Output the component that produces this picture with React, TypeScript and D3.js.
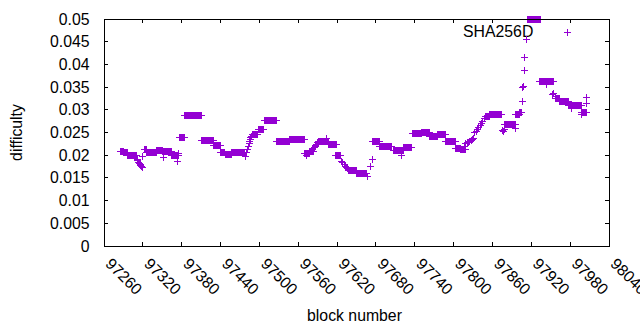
import React from "react";
import * as d3 from "d3";

// Runs of consecutive blocks sharing one difficulty value
const runStart = [97285, 97290, 97296, 97322, 97326, 97341, 97351, 97365, 97376, 97385, 97411, 97429, 97440, 97447, 97457, 97489, 97498, 97508, 97527, 97547, 97570, 97577, 97591, 97607, 97618, 97637, 97650, 97675, 97686, 97707, 97722, 97736, 97750, 97763, 97775, 97788, 97803, 97811, 97849, 97856, 97879, 97896, 97902, 97914, 97933, 97958, 97963, 97977, 97998];
const runEnd = [97290, 97296, 97310, 97326, 97341, 97351, 97365, 97375, 97384, 97411, 97429, 97440, 97446, 97457, 97477, 97497, 97506, 97527, 97547, 97570, 97577, 97584, 97606, 97619, 97626, 97650, 97666, 97686, 97704, 97722, 97735, 97750, 97763, 97775, 97788, 97803, 97811, 97819, 97856, 97874, 97895, 97901, 97905, 97934, 97954, 97963, 97977, 97998, 98005];
const runDiff = [0.0209, 0.0205, 0.0199, 0.0212, 0.0206, 0.021, 0.0208, 0.02, 0.0239, 0.0288, 0.0233, 0.0222, 0.0207, 0.0202, 0.0206, 0.0245, 0.0256, 0.0277, 0.0231, 0.0235, 0.0203, 0.0208, 0.023, 0.0223, 0.02, 0.0167, 0.016, 0.0231, 0.022, 0.0211, 0.0216, 0.0248, 0.025, 0.0242, 0.0246, 0.023, 0.0215, 0.0212, 0.0286, 0.029, 0.0268, 0.029, 0.0294, 0.0499, 0.0363, 0.0324, 0.0318, 0.031, 0.0295];

// Individual blocks
const singleBlock = [97311, 97312, 97313, 97314, 97315, 97316, 97317, 97318, 97319, 97320, 97319, 97352, 97374, 97375, 97478, 97480, 97482, 97483, 97484, 97485, 97486, 97487, 97488, 97573, 97585, 97586, 97587, 97588, 97589, 97590, 97603, 97627, 97629, 97631, 97633, 97635, 97636, 97667, 97671, 97674, 97720, 97817, 97819, 97821, 97823, 97825, 97827, 97829, 97831, 97833, 97835, 97837, 97839, 97841, 97843, 97845, 97847, 97875, 97877, 97878, 97895, 97906, 97907, 97908, 97909, 97910, 97912, 97943, 97953, 97955, 97957, 97982, 97997, 98005, 98005];
const singleDiff = [0.019, 0.0188, 0.0185, 0.0183, 0.0181, 0.0179, 0.0177, 0.0175, 0.0173, 0.0172, 0.0198, 0.0195, 0.0187, 0.0203, 0.0198, 0.0205, 0.0213, 0.0219, 0.0226, 0.0231, 0.0235, 0.0238, 0.0241, 0.02, 0.0217, 0.0219, 0.0222, 0.0224, 0.0227, 0.0229, 0.0237, 0.0186, 0.0183, 0.0179, 0.0176, 0.0172, 0.017, 0.0153, 0.0175, 0.0191, 0.02, 0.0219, 0.0225, 0.0227, 0.0229, 0.0231, 0.0233, 0.0235, 0.0237, 0.0249, 0.0253, 0.0257, 0.0261, 0.0266, 0.027, 0.0275, 0.028, 0.0255, 0.0253, 0.0256, 0.0258, 0.0318, 0.0349, 0.0352, 0.0386, 0.0416, 0.0454, 0.0355, 0.0334, 0.0336, 0.0329, 0.0303, 0.0289, 0.0327, 0.0314];

const xTicks = [97260, 97320, 97380, 97440, 97500, 97560, 97620, 97680, 97740, 97800, 97860, 97920, 97980, 98040];
const yTicks = [0, 0.005, 0.01, 0.015, 0.02, 0.025, 0.03, 0.035, 0.04, 0.045, 0.05];
const yTickLabels = ["0", "0.005", "0.01", "0.015", "0.02", "0.025", "0.03", "0.035", "0.04", "0.045", "0.05"];
const seriesName = "SHA256D";
const xLabel = "block number";
const yLabel = "difficulty";

export default function App() {
  const W = 640, H = 330;
  const left = 104, right = 609, top = 19, bottom = 246;
  const x = d3.scaleLinear().domain([97260, 98040]).range([left, right]);
  const y = d3.scaleLinear().domain([0, 0.05]).range([bottom, top]);
  const color = "#9400d3";
  const font = "'Liberation Sans', Arial, sans-serif";
  const fs = 15.8;

  const points: [number, number][] = [];
  runStart.forEach((s, i) => {
    for (let b = s; b <= runEnd[i]; b++) points.push([b, runDiff[i]]);
  });
  singleBlock.forEach((b, i) => points.push([b, singleDiff[i]]));

  const snap = (v: number) => Math.round(v - 0.5) + 0.5;
  const plus = (cx: number, cy: number, p: d3.Path, r = 3.5) => {
    p.moveTo(cx - r, cy); p.lineTo(cx + r, cy);
    p.moveTo(cx, cy - r); p.lineTo(cx, cy + r);
  };
  const path = d3.path();
  points.forEach(([b, d]) => plus(snap(x(b)), snap(y(d)), path));

  const legendPath = d3.path();
  plus(567.5, 32.5, legendPath);

  const tl = 4;
  return (
    <svg width={W} height={H} style={{ position: "absolute", left: 0, top: 0, background: "#fff" }} fontFamily={font} fontSize={fs}>
      <rect x={0} y={0} width={W} height={H} fill="#fff" />
      {/* ticks */}
      <g stroke="#000" strokeWidth={1} shapeRendering="crispEdges">
        {yTicks.map((t) => (
          <g key={"y" + t}>
            <line x1={left} x2={left + tl} y1={snap(y(t))} y2={snap(y(t))} />
            <line x1={right} x2={right - tl} y1={snap(y(t))} y2={snap(y(t))} />
          </g>
        ))}
        {xTicks.map((t) => (
          <g key={"x" + t}>
            <line x1={snap(x(t))} x2={snap(x(t))} y1={bottom} y2={bottom - tl} />
            <line x1={snap(x(t))} x2={snap(x(t))} y1={top} y2={top + tl} />
          </g>
        ))}
      </g>
      {/* tick labels */}
      <g fill="#000">
        {yTicks.map((t, i) => (
          <text key={"yl" + t} x={89.5} y={y(t) + 5.5} textAnchor="end">{yTickLabels[i]}</text>
        ))}
        {xTicks.map((t) => (
          <text key={"xl" + t} transform={`translate(${x(t) + 0.5},264.7) rotate(45)`} textAnchor="start">{String(t)}</text>
        ))}
        <text transform={`translate(22,${(top + bottom) / 2}) rotate(-90)`} textAnchor="middle">{yLabel}</text>
        <text x={354.5} y={321} textAnchor="middle">{xLabel}</text>
        <text x={533.3} y={37.3} textAnchor="end">{seriesName}</text>
      </g>
      {/* data */}
      <path d={path.toString()} stroke={color} strokeWidth={1} fill="none" shapeRendering="crispEdges" />
      <path d={legendPath.toString()} stroke={color} strokeWidth={1} fill="none" shapeRendering="crispEdges" />
      {/* frame */}
      <rect x={left + 0.5} y={top + 0.5} width={right - left} height={bottom - top} fill="none" stroke="#000" strokeWidth={1} shapeRendering="crispEdges" />
    </svg>
  );
}
